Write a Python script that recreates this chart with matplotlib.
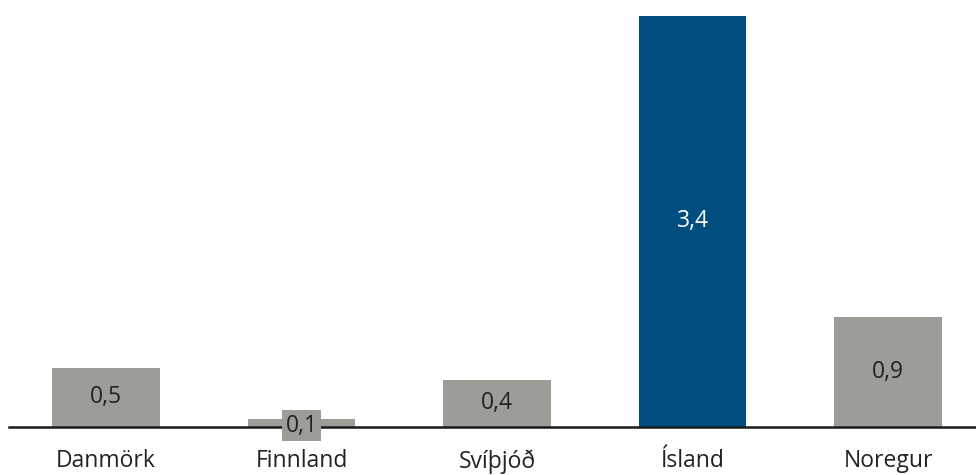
import matplotlib
matplotlib.use("Agg")
from matplotlib import pyplot as plt
import numpy as np

# Data
countries = ['Danmörk', 'Finnland', 'Svíþjóð', 'Ísland', 'Noregur']
values = [0.49, 0.07, 0.39, 3.4, 0.91]
labels = ['0,5', '0,1', '0,4', '3,4', '0,9']

grey = '#9d9c96'
blue = '#004e80'
colors = [blue if c == 'Ísland' else grey for c in countries]

plt.rcParams['font.family'] = ['Open Sans', 'DejaVu Sans']

fig = plt.figure(figsize=(9.76, 4.75), dpi=100)
ax = fig.add_axes([9 / 976, 48 / 475, 967 / 976, 411 / 475])

x = np.arange(len(countries))
bars = ax.bar(x, values, width=0.552, color=colors, zorder=2)

for xi, v, lab, c in zip(x, values, labels, colors):
    if v < 0.2:
        ax.text(xi, 0.01, lab, ha='center', va='center', fontsize=16.5,
                color='#222222',
                bbox=dict(facecolor=grey, edgecolor='none', pad=2.5), zorder=4)
    else:
        ax.text(xi, v / 2, lab, ha='center', va='center', fontsize=16.5,
                color='white' if c == blue else '#222222', zorder=4)

ax.set_xlim(-0.496, 4.45)
ax.set_ylim(0, 3.4)
ax.set_xticks(x)
ax.set_xticklabels(countries, fontsize=16.5, color='#222222')
ax.tick_params(axis='x', length=0, pad=16)
ax.set_yticks([])

for s in ['top', 'right', 'left']:
    ax.spines[s].set_visible(False)
ax.spines['bottom'].set_linewidth(1.8)
ax.spines['bottom'].set_color('#1a1a1a')
ax.spines['bottom'].set_zorder(3)

fig.savefig('out.png', dpi=100)
